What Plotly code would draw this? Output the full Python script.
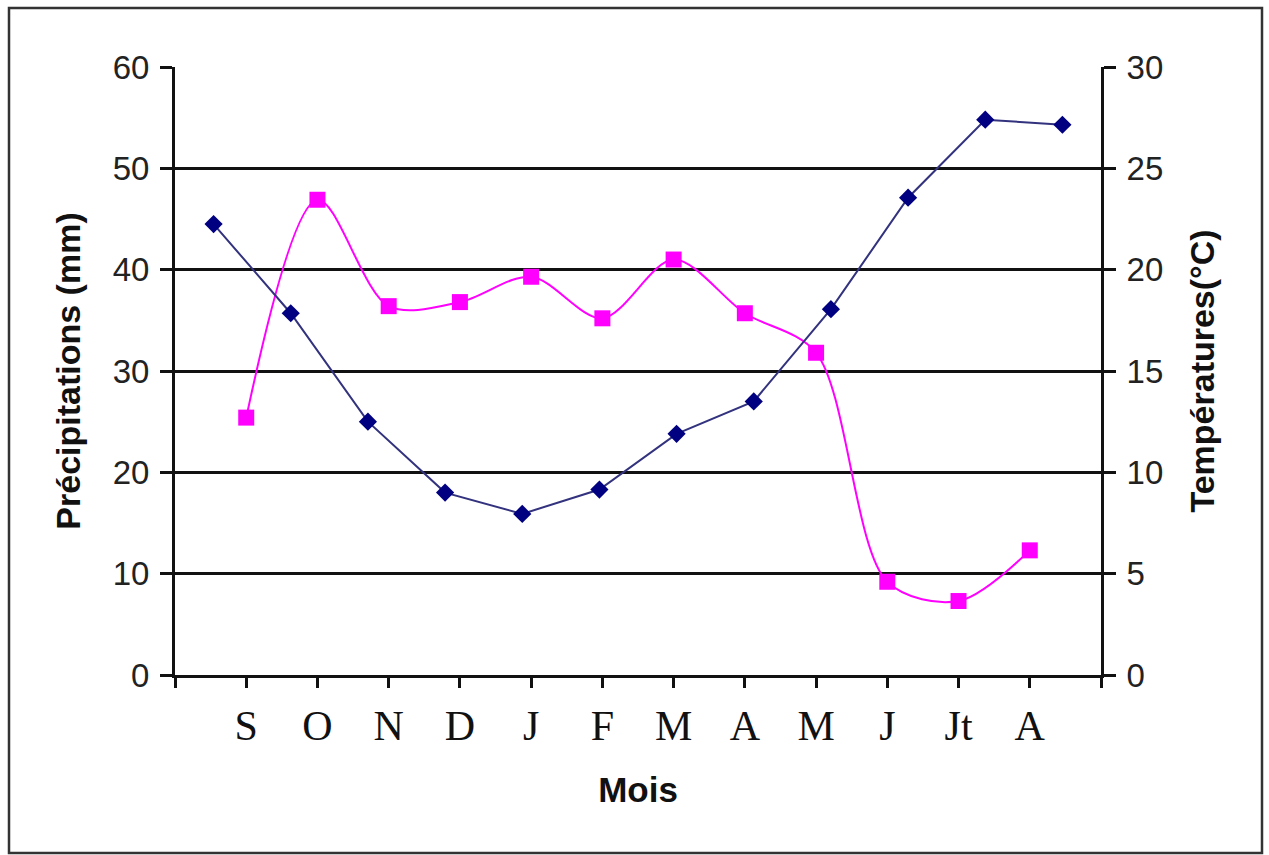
import plotly.graph_objects as go

months = ["S", "O", "N", "D", "J", "F", "M", "A", "M", "J", "Jt", "A"]
precip_mm = [25.4, 46.9, 36.4, 36.8, 39.3, 35.2, 41.0, 35.7, 31.8, 9.2, 7.3, 12.3]
temp_c = [22.25, 17.85, 12.5, 9.0, 7.95, 9.15, 11.9, 13.5, 18.05, 23.55, 27.4, 27.15]

pos_precip = [i + 1 for i in range(len(months))]
pos_temp = list(range(len(months)))

L, R, T, B = 175, 168, 67, 180
W, H = 1269, 855
pw, ph = W - L - R, H - T - B

fig = go.Figure()

fig.add_trace(go.Scatter(
    x=pos_temp, y=temp_c, xaxis="x2", yaxis="y2", mode="lines+markers",
    line=dict(color="#32327e", width=2),
    marker=dict(symbol="diamond", size=14, color="#000080"),
    showlegend=False,
))
fig.add_trace(go.Scatter(
    x=pos_precip, y=precip_mm, xaxis="x", yaxis="y", mode="lines+markers",
    line=dict(color="#FF00FF", width=2, shape="spline", smoothing=0.9),
    marker=dict(symbol="square", size=16, color="#FF00FF"),
    showlegend=False,
))

tick_text = [""] + months + [""]

fig.update_layout(
    width=W, height=H,
    margin=dict(l=L, r=R, t=T, b=B),
    paper_bgcolor="white", plot_bgcolor="white",
    xaxis=dict(
        range=[0, 13], tickmode="array", tickvals=list(range(14)), ticktext=tick_text,
        ticks="outside", ticklen=10, tickwidth=3, tickcolor="#111",
        showline=True, linewidth=3, linecolor="#111",
        showgrid=False, zeroline=False,
        tickfont=dict(family="Liberation Serif, Times New Roman, serif", size=42, color="#111"),
        ticklabelstandoff=2,
        title=dict(text="<b>Mois</b>", font=dict(family="Liberation Sans, Arial, sans-serif", size=35, color="#111"), standoff=30),
    ),
    xaxis2=dict(range=[-0.5, 11.5], overlaying="x", visible=False),
    yaxis=dict(
        range=[0, 60], tickmode="array", tickvals=[0, 10, 20, 30, 40, 50, 60],
        ticks="outside", ticklen=12, tickwidth=3, tickcolor="#111",
        showline=True, linewidth=3, linecolor="#111",
        showgrid=True, gridcolor="#111", gridwidth=3, zeroline=False,
        tickfont=dict(family="Liberation Sans, Arial, sans-serif", size=33, color="#222"),
        ticklabelstandoff=4,
        title=dict(text="<b>Précipitations (mm)</b>", font=dict(family="Liberation Sans, Arial, sans-serif", size=34, color="#111"), standoff=22),
    ),
    yaxis2=dict(
        range=[0, 30], tickmode="array", tickvals=[0, 5, 10, 15, 20, 25, 30],
        overlaying="y", side="right",
        ticks="outside", ticklen=12, tickwidth=3, tickcolor="#111",
        showline=True, linewidth=3, linecolor="#111",
        showgrid=False, zeroline=False,
        tickfont=dict(family="Liberation Sans, Arial, sans-serif", size=33, color="#222"),
        ticklabelstandoff=4,
        title=dict(text="<b>Températures(°C)</b>", font=dict(family="Liberation Sans, Arial, sans-serif", size=34, color="#111"), standoff=28),
    ),
    shapes=[dict(
        type="rect", xref="paper", yref="paper",
        x0=(9 - L) / pw, x1=(1262 - L) / pw,
        y0=(H - B - 853) / ph, y1=(H - B - 8) / ph,
        line=dict(color="#333", width=2.5), fillcolor="rgba(0,0,0,0)", layer="below",
    )],
)

fig.write_html("out.html")
